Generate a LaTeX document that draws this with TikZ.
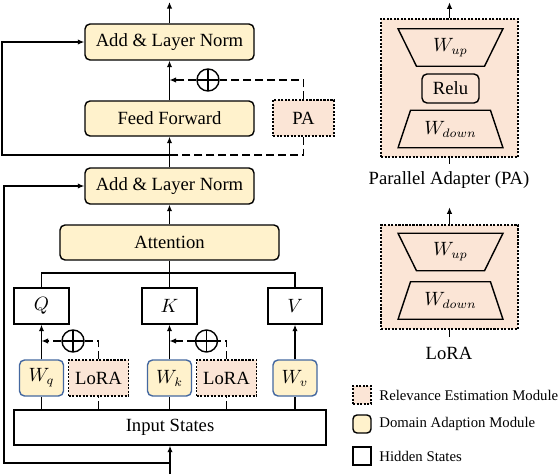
\documentclass[tikz,border=0pt]{standalone}
\usepackage{fontspec}
\setmainfont{Liberation Serif}
\usepackage{tikz}
\usetikzlibrary{arrows.meta,positioning,shapes.geometric,calc}
\definecolor{cream}{RGB}{255,242,204}
\definecolor{peach}{RGB}{251,229,214}
\definecolor{wblue}{RGB}{68,104,160}

\begin{document}
\begin{tikzpicture}[x=0.2mm,y=-0.2mm,
  font=\fontsize{10.6}{12.7}\selectfont,
  line width=0.8pt,
  dam/.style={draw,fill=cream,rounded corners=1mm,align=center,inner sep=0pt},
  rem/.style={draw,fill=peach,dash pattern=on 1.2pt off 0.8pt,inner sep=0pt},
  hid/.style={draw,fill=white,inner sep=0pt},
  wmat/.style={draw=wblue,fill=cream,rounded corners=1mm,inner sep=0pt,
               minimum width=8.8mm,minimum height=7.2mm},
  oplus/.style={circle,draw,minimum size=4.4mm,inner sep=0pt,
                path picture={\draw (path picture bounding box.north) --
                  (path picture bounding box.south)
                  (path picture bounding box.west) --
                  (path picture bounding box.east);}},
  trap/.style={trapezium,draw,trapezium stretches=true,
               trapezium left angle=63,trapezium right angle=63,
               minimum width=21mm,minimum height=7.5mm,inner sep=0pt},
  arr/.style={-{Latex[length=1.3mm,width=1.1mm]}},
  dline/.style={dash pattern=on 4.5pt off 2.3pt},
  lgd/.style={font=\fontsize{8.4}{10}\selectfont,inner sep=0pt}]

\useasboundingbox (0,0) rectangle (558,474);

\node[dam,minimum width=33.8mm,minimum height=7.2mm] (an2) at (169.5,42) {Add \& Layer Norm};
\node[dam,minimum width=33.8mm,minimum height=7mm] (ff) at (169.5,118.5) {Feed Forward};
\node[rem,minimum width=12.2mm,minimum height=7.2mm] (pa) at (303.5,118) {PA};
\node[oplus] (add3) at (208,80) {};
\node[dam,minimum width=33.8mm,minimum height=7.2mm] (an1) at (169.5,186) {Add \& Layer Norm};
\node[dam,minimum width=43.8mm,minimum height=7mm] (att) at (169.5,242.5) {Attention};

\node[hid,minimum width=11mm,minimum height=7.2mm] (q) at (41.5,306) {$Q$};
\node[hid,minimum width=11mm,minimum height=7.2mm] (k) at (169.5,306) {$K$};
\node[hid,minimum width=10.8mm,minimum height=7.2mm] (v) at (295,306) {$V$};

\node[wmat] (wq) at (41.5,378) {$W_q$};
\node[rem,minimum width=12mm,minimum height=7.2mm] (lq) at (98.5,378) {LoRA};
\node[oplus] (add1) at (73,341) {};
\node[wmat] (wk) at (169.5,378) {$W_k$};
\node[rem,minimum width=12mm,minimum height=7.2mm] (lk) at (226.5,378) {LoRA};
\node[oplus] (add2) at (206.5,341) {};
\node[wmat] (wv) at (295,378) {$W_v$};
\node[hid,minimum width=62.4mm,minimum height=7mm] (inp) at (170,427.5) {Input States};

\coordinate (top) at (169.5,2);
\coordinate (fork1) at (169.5,155);
\coordinate (fork2) at (170,463);
\coordinate (split) at (169.5,273);
\coordinate (bot) at (170,474);

\draw[arr] (an2) -- (top);
\draw[arr] (ff) -- (an2);
\draw[arr] (an1) -- (ff);
\draw[arr] (att) -- (an1);
\draw (att) -- (split);
\draw (q.north) |- (split) -| (v.north);
\draw (split) -- (k.north);
\draw[arr] (fork1) -- ++(-167.5,0) |- (an2.west);
\draw[arr] (bot) -- (inp.south);
\draw[arr] (fork2) -- ++(-166,0) |- (an1.west);

\draw[dline] (pa.south) |- (fork1);
\draw[dline] (pa.north) |- (add3.east);
\draw[dline,arr] (add3.west) -- (ff.north |- add3);

\draw (wq.south |- inp.north) -- (wq);
\draw (wk.south |- inp.north) -- (wk);
\draw (wv.south |- inp.north) -- (wv);
\draw[arr] (wq) -- (q);
\draw[arr] (wk) -- (k);
\draw[arr] (wv) -- (v);

\draw[dline] (lq.south |- inp.north) -- (lq.south);
\draw[dline] (lq.north) |- (add1.east);
\draw[dline,arr] (add1.west) -- (q.south |- add1);
\draw[dline] (lk.south |- inp.north) -- (lk.south);
\draw[dline] (lk.north) |- (add2.east);
\draw[dline,arr] (add2.west) -- (k.south |- add2);

\node[rem,minimum width=27.4mm,minimum height=27.6mm] (pabox) at (449.5,88) {};
\node[trap,shape border rotate=180] (up1) at (450.5,47.5) {$W_{up}$};
\node[draw,rounded corners=1mm,minimum width=11.4mm,minimum height=5.8mm,
      inner sep=0pt] (relu) at (450.5,88.5) {Relu};
\node[trap] (dn1) at (450.5,129) {$W_{down}$};
\node (palbl) at (449,180) {Parallel Adapter (PA)};
\draw[arr] (pabox.north) -- ++(0,-16);
\draw (pabox.south) -- ++(0,6);

\node[rem,minimum width=27.4mm,minimum height=20.8mm] (lorabox) at (449.5,277) {};
\node[trap,shape border rotate=180] (up2) at (450.5,252) {$W_{up}$};
\node[trap] (dn2) at (450.5,300.5) {$W_{down}$};
\node (loralbl) at (449,353) {LoRA};
\draw[arr] (lorabox.north) -- ++(0,-17);
\draw (lorabox.south) -- ++(0,7);

\node[rem,minimum size=3.6mm] (key1) at (362,395) {};
\node[draw,fill=cream,rounded corners=0.8mm,minimum size=3.6mm,inner sep=0pt] (key2) at (362,424) {};
\node[hid,minimum size=3.6mm] (key3) at (362,456) {};
\node[lgd,right=1.4mm of key1] (txt1) {Relevance Estimation Module};
\node[lgd,right=1.4mm of key2] (txt2) {Domain Adaption Module};
\node[lgd,right=1.4mm of key3] (txt3) {Hidden States};
\end{tikzpicture}
\end{document}
